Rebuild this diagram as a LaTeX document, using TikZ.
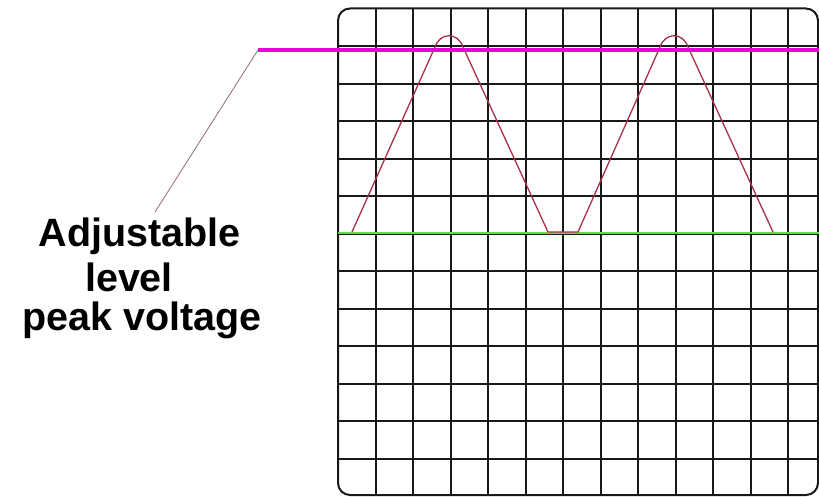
\documentclass[tikz,border=0pt]{standalone}
\usepackage{fontspec}
\setmainfont{Liberation Sans}
\usetikzlibrary{positioning,calc}
\definecolor{ScopeGrid}{RGB}{25,25,25}
\definecolor{PeakPink}{RGB}{232,0,222}
\definecolor{ZeroGreen}{RGB}{105,215,75}
\definecolor{TraceRed}{RGB}{168,48,72}
\tikzset{
  gridline/.style={draw=ScopeGrid,line width=2pt},
  peakline/.style={draw=PeakPink,line width=4.6pt},
  zeroline/.style={draw=ZeroGreen,line width=2pt},
  trace/.style={draw=TraceRed,line width=1.3pt,line join=round},
  leader/.style={draw=black!45!TraceRed!60,line width=0.9pt},
  caption/.style={font=\fontsize{39.5}{44}\selectfont\bfseries,anchor=base,inner sep=0pt},
}

\begin{document}
\begin{tikzpicture}[x=1pt,y=-1pt]
  \useasboundingbox (0,0) rectangle (819,497);
  % screen
  \coordinate (tl) at (338,8.5);
  \coordinate (br) at (818,495);
  \foreach \k in {1,...,12}
    \draw[gridline] ($(tl)+(37.5*\k,0)$) -- ($(tl)+(37.5*\k,486.5)$);
  \foreach \k in {1,...,12}
    \draw[gridline] ($(tl)+(0,37.54*\k)$) -- ($(tl)+(480,37.54*\k)$);
  \draw[gridline,rounded corners=12pt] (tl) rectangle (br);
  % zero level
  \coordinate (z0) at (338,233);
  \coordinate (z1) at (819,233);
  \draw[zeroline] (z0) -- (z1);
  % rectified wave
  \draw[trace] (352,232) -- (435,47)
    .. controls (440,32) and (458,32) .. (463,47)
    -- (548,232) -- (578,232) -- (660,47)
    .. controls (665,32) and (683,32) .. (688,47)
    -- (773,232);
  % adjustable peak level
  \coordinate (p0) at (258,50);
  \coordinate (p1) at (819,50);
  \draw[peakline] (p0) -- (p1);
  \node[caption] (adj) at (139.5,247) {Adjustable};
  \node[caption] (lvl) at (129,291) {level};
  \node[caption] (pkv) at (142,330) {peak voltage};
  \coordinate (tip) at (155,212);
  \draw[leader] (p0) -- (tip);
\end{tikzpicture}
\end{document}
